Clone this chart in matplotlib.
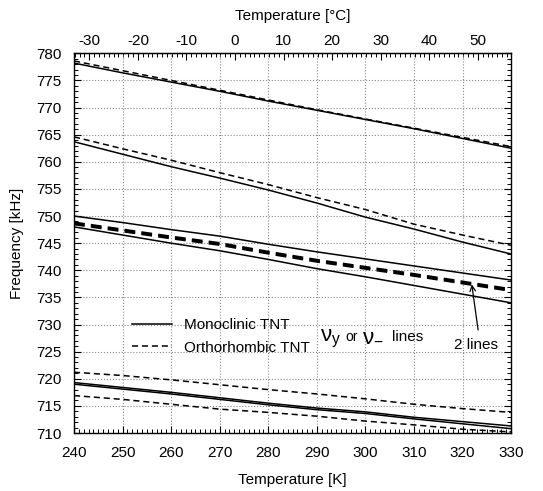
import matplotlib
matplotlib.use("Agg")
import matplotlib.pyplot as plt
from matplotlib.ticker import MultipleLocator

plt.rcParams['font.family'] = ['Liberation Sans', 'DejaVu Sans']
plt.rcParams['mathtext.fontset'] = 'custom'
plt.rcParams['mathtext.rm'] = 'Liberation Sans'
plt.rcParams['mathtext.it'] = 'Liberation Sans'
plt.rcParams['axes.unicode_minus'] = False

# temperatures [K] and line frequencies [kHz]
temp_k = [240, 250, 260, 270, 280, 290, 300, 310, 320, 330]

mono_a = [778.2, 776.4, 774.7, 773.0, 771.2, 769.5, 767.8, 766.1, 764.3, 762.5]
ortho_a = [778.6, 776.8, 775.0, 773.2, 771.4, 769.6, 767.9, 766.2, 764.5, 762.8]

mono_b = [763.7, 761.4, 759.1, 757.0, 754.8, 752.4, 749.8, 747.6, 745.2, 743.0]
ortho_b = [764.6, 762.4, 760.3, 758.0, 755.8, 753.4, 751.2, 748.5, 746.5, 744.6]

mono_c1 = [750.0, 748.8, 747.5, 746.3, 744.8, 743.4, 742.1, 740.8, 739.5, 738.2]
ortho_c1 = [748.8, 747.5, 746.2, 745.0, 743.4, 741.9, 740.6, 739.3, 737.9, 736.5]
ortho_c2 = [748.5, 747.2, 745.9, 744.7, 743.1, 741.6, 740.3, 739.0, 737.6, 736.2]
mono_c2 = [748.0, 746.5, 745.0, 743.6, 742.0, 740.3, 738.8, 737.2, 735.6, 734.0]

ortho_d1 = [721.2, 720.6, 719.8, 718.9, 718.0, 717.2, 716.3, 715.3, 714.5, 713.8]
mono_d1 = [719.3, 718.4, 717.5, 716.5, 715.5, 714.6, 713.9, 712.9, 712.1, 711.3]
mono_d2 = [719.0, 718.1, 717.2, 716.2, 715.2, 714.3, 713.6, 712.6, 711.7, 710.8]
ortho_d2 = [716.9, 716.2, 715.3, 714.4, 713.8, 713.1, 712.2, 711.5, 710.7, 710.2]

fs = 11

fig = plt.figure(figsize=(5.43, 4.91), dpi=100)
ax = fig.add_axes([0.1363, 0.1181, 0.805, 0.7733])

solid = dict(color='black', lw=1.1, ls='-')
dash = dict(color='black', lw=1.1, ls=(0, (4, 2.5)))
thick = dict(color='black', lw=1.7, ls=(0, (4.6, 2.6)))

ax.plot(temp_k, mono_a, label='Monoclinic TNT', **solid)
ax.plot(temp_k, ortho_a, label='Orthorhombic TNT', **dash)
ax.plot(temp_k, mono_b, **solid)
ax.plot(temp_k, ortho_b, **dash)
ax.plot(temp_k, mono_c1, **solid)
ax.plot(temp_k, ortho_c1, **thick)
ax.plot(temp_k, ortho_c2, **thick)
ax.plot(temp_k, mono_c2, **solid)
ax.plot(temp_k, ortho_d1, **dash)
ax.plot(temp_k, mono_d1, **solid)
ax.plot(temp_k, mono_d2, **solid)
ax.plot(temp_k, ortho_d2, **dash)

ax.set_xlim(240, 330)
ax.set_ylim(710, 780)
ax.xaxis.set_major_locator(MultipleLocator(10))
ax.xaxis.set_minor_locator(MultipleLocator(1))
ax.yaxis.set_major_locator(MultipleLocator(5))
ax.yaxis.set_minor_locator(MultipleLocator(1))
ax.grid(True, which='major', color='#888888', ls=':', lw=0.8)

ax.tick_params(which='both', direction='in', right=True, labelsize=fs)
ax.tick_params(axis='x', which='major', pad=9)
ax.tick_params(axis='y', which='major', pad=9)
ax.tick_params(which='major', length=5, width=0.8)
ax.tick_params(which='minor', length=2.8, width=0.7)
for s in ax.spines.values():
    s.set_linewidth(1.0)

ax.set_xlabel('Temperature [K]', fontsize=fs, labelpad=10)
ax.set_ylabel('Frequency [kHz]', fontsize=fs, labelpad=9)

top = ax.secondary_xaxis('top', functions=(lambda t: t - 273.15, lambda c: c + 273.15))
top.xaxis.set_major_locator(MultipleLocator(10))
top.xaxis.set_minor_locator(MultipleLocator(1))
top.tick_params(which='both', direction='in', labelsize=fs)
top.tick_params(which='major', length=5, width=0.8, pad=4)
top.tick_params(which='minor', length=2.8, width=0.7)
top.set_xlabel('Temperature [°C]', fontsize=fs, labelpad=10)

ax.legend(loc='upper left', bbox_to_anchor=(0.133, 0.302), frameon=False,
          fontsize=fs, handlelength=2.6, handletextpad=0.8,
          labelspacing=0.55, borderpad=0, borderaxespad=0)

# "nu_y or nu_- lines" label, nu drawn larger as in the original
base = 726.9
ax.text(290.7, base, r'$\nu_{y}$', fontsize=16, va='baseline', ha='left')
ax.text(295.9, base, 'or', fontsize=10, va='baseline', ha='left')
ax.text(299.3, base, r'$\nu_{-}$', fontsize=16, va='baseline', ha='left')
ax.text(305.5, base, 'lines', fontsize=fs, va='baseline', ha='left')

ax.text(322.8, 726.3, '2 lines', fontsize=fs, va='center', ha='center')
ax.annotate('', xy=(321.9, 737.4), xytext=(323.2, 729.0),
            arrowprops=dict(arrowstyle='->', color='black', lw=0.9,
                            shrinkA=0, shrinkB=0))

fig.savefig('out.png', dpi=100)
